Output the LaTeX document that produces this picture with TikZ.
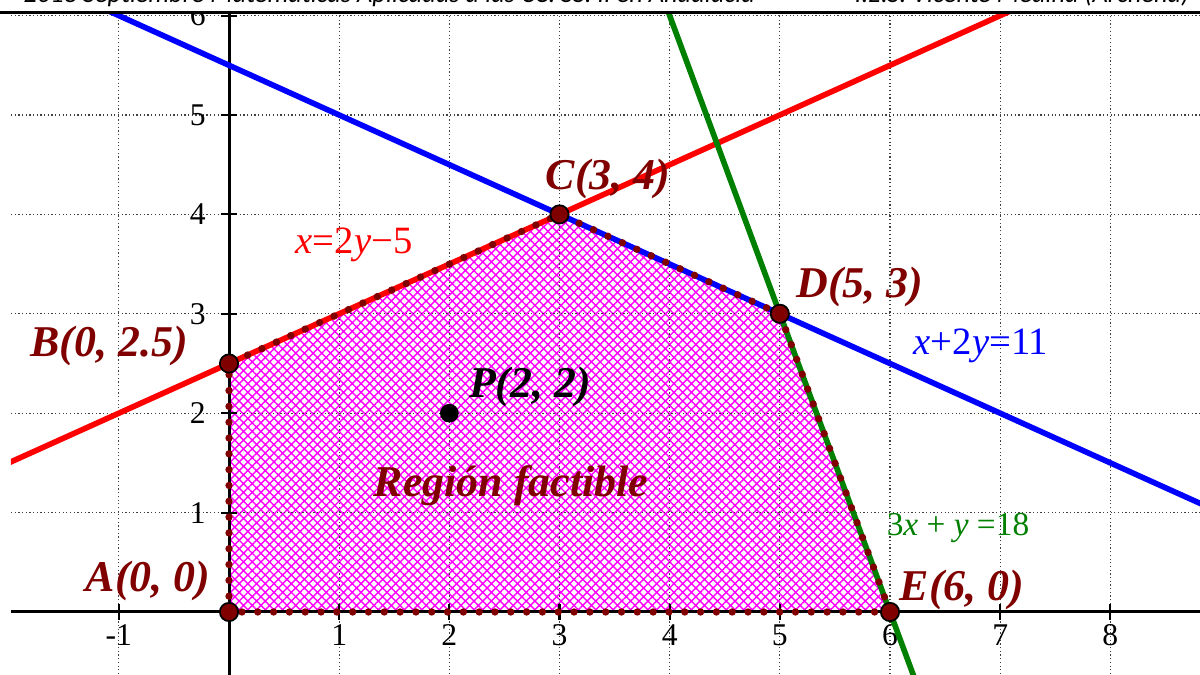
\documentclass[tikz,border=0pt]{standalone}
\usepackage{fontspec}
\setmainfont{Liberation Serif}
\newfontfamily\cabfont{Carlito}
\usetikzlibrary{patterns.meta}
\definecolor{granate}{RGB}{128,0,0}
\definecolor{verde}{RGB}{0,128,0}
\tikzset{
  rejilla/.style={black!75, line width=0.35pt, dash pattern=on 0.35pt off 0.7pt},
  recta/.style={line width=1.6pt},
  punto/.style={circle, fill=granate, draw=black, line width=0.5pt, minimum size=5.2pt, inner sep=0pt},
  marca/.style={font=\fontsize{9}{11}\selectfont, text=black},
  ecuacion/.style={font=\fontsize{11}{13}\selectfont},
  cabecera/.style={font=\cabfont\itshape\fontsize{7.5}{9}\selectfont, text=black, inner sep=0pt}
}
\begin{document}
\begin{tikzpicture}[x=1.1017cm, y=0.994cm, every node/.style={font=\fontsize{12.5}{15}\selectfont\bfseries\itshape, text=granate}]
    \useasboundingbox (-2.079,-0.634) rectangle (8.814,6.157);
    \clip (-2.079,-0.634) rectangle (8.814,6.157);
    \fill[white] (-2.079,-0.634) rectangle (8.814,6.157);

    % Cabecera
    \node[cabecera, anchor=base west] (cabizq) at (-1.87,6.127) {2018 Septiembre Matemáticas Aplicadas a las CC. SS. II en Andalucía};
    \node[cabecera, anchor=base east] (cabder) at (8.723,6.127) {I.E.S. Vicente Medina (Archena)};
    \draw[line width=0.85pt] (-2.079,6.031) -- (8.814,6.031);

    \begin{scope}
    \clip (-1.98,-0.634) rectangle (8.814,6.016);

    % Vértices
    \coordinate (A) at (0,0);
    \coordinate (B) at (0,2.5);
    \coordinate (C) at (3,4);
    \coordinate (D) at (5,3);
    \coordinate (E) at (6,0);

    % Región factible
    \fill[pattern={Hatch[angle=45, distance=1.75pt, line width=0.4pt]}, pattern color=magenta] (A) -- (B) -- (C) -- (D) -- (E) -- cycle;

    % Cuadrícula
    \foreach \x in {-1,...,8} \draw[rejilla] (\x,-0.7) -- (\x,6.1);
    \foreach \y in {1,...,6} \draw[rejilla] (-1.98,\y) -- (8.9,\y);

    % Ejes
    \draw[line width=0.85pt] (-1.98,0) -- (8.9,0);
    \draw[line width=0.85pt] (0,-0.7) -- (0,6.1);
    \foreach \x in {-1,1,2,...,8} {
        \draw[line width=0.6pt] (\x,-0.08) -- (\x,0.08);
        \node[marca] at (\x,-0.231) {\x};
    }
    \foreach \y in {1,...,6} {
        \draw[line width=0.6pt] (-0.075,\y) -- (0.075,\y);
        \node[marca, anchor=east] at (-0.1,\y) {\y};
    }

    % Rectas
    \draw[recta, red, domain=-2.1:7.4] plot (\x,{(\x+5)/2});
    \draw[recta, blue, domain=-1.6:9] plot (\x,{(11-\x)/2});
    \draw[recta, verde, domain=3.9:6.3] plot (\x,{18-3*\x});

    % Contorno
    \draw[granate, line width=2.1pt, line cap=round, dash pattern=on 0pt off 4.5pt] (A) -- (B) -- (C) -- (D) -- (E) -- cycle;

    % Puntos
    \foreach \p in {A,B,C,D,E} \node[punto] (pt\p) at (\p) {};
    \node[punto, fill=black, minimum size=4.8pt] (ptP) at (2,2) {};

    % Etiquetas
    \node (labA) at (-0.735,0.312) {A(0, 0)};
    \node (labB) at (-1.089,2.676) {B(0, 2.5)};
    \node (labC) at (3.440,4.356) {C(3, 4)};
    \node (labD) at (5.728,3.270) {D(5, 3)};
    \node (labE) at (6.653,0.221) {E(6, 0)};
    \node[text=black] (labP) at (2.732,2.264) {P(2, 2)};
    \node (region) at (2.560,1.268) {Región factible};
    \node[ecuacion, text=red] (ecroja) at (1.135,3.692) {\textit{x}=2\textit{y}−5};
    \node[ecuacion, text=blue] (ecazul) at (6.826,2.676) {\textit{x}+2\textit{y}=11};
    \node[ecuacion, text=verde, font=\fontsize{9.5}{11}\selectfont] (ecverde) at (6.617,0.845) {3\textit{x} + \textit{y} =18};
    \end{scope}
\end{tikzpicture}
\end{document}
